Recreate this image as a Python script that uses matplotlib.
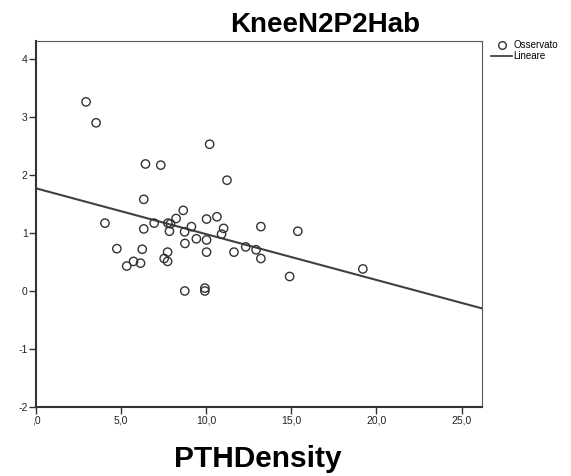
import matplotlib
matplotlib.use("Agg")
import matplotlib.pyplot as plt
from matplotlib.lines import Line2D

plt.rcParams['font.family'] = ['Liberation Sans', 'DejaVu Sans']
plt.rcParams['axes.unicode_minus'] = False

pth_density = [2.94, 3.53, 4.05, 4.75, 5.33, 5.73, 6.14, 6.24, 6.33, 6.33,
               6.43, 6.94, 7.33, 7.53, 7.73, 7.73, 7.75, 7.84, 7.90, 8.23,
               8.65, 8.73, 8.75, 8.74, 9.13, 9.42, 9.92, 9.92, 10.02, 10.02,
               10.02, 10.20, 10.63, 10.90, 11.02, 11.22, 11.63, 12.32, 12.93, 13.21,
               13.21, 14.90, 15.38, 19.20]
knee = [3.26, 2.90, 1.17, 0.73, 0.43, 0.51, 0.48, 0.72, 1.07, 1.58,
        2.19, 1.17, 2.17, 0.56, 0.67, 0.51, 1.17, 1.03, 1.16, 1.25,
        1.39, 1.02, 0.82, 0.00, 1.11, 0.90, 0.05, 0.00, 1.24, 0.88,
        0.67, 2.53, 1.28, 0.98, 1.08, 1.91, 0.67, 0.76, 0.71, 1.11,
        0.56, 0.25, 1.03, 0.38]

# linear fit as drawn
intercept = 1.77
slope = -0.079

x_ticks = [0, 5, 10, 15, 20, 25]
x_labels = [",0", "5,0", "10,0", "15,0", "20,0", "25,0"]
y_ticks = [-2, -1, 0, 1, 2, 3, 4]

x_min, x_max = 0, 26.2
y_min, y_max = -2, 4.31

fig = plt.figure(figsize=(5.71, 4.76), dpi=100)
ax = fig.add_axes([36 / 571, 1 - 407 / 476, 446 / 571, 366 / 476])

ax.scatter(pth_density, knee, s=36, facecolors='none', edgecolors='#333333',
           linewidths=1.0, zorder=3)
ax.plot([x_min, x_max], [intercept + slope * x_min, intercept + slope * x_max],
        color='#404040', linewidth=1.5, zorder=2)

ax.set_xlim(x_min, x_max)
ax.set_ylim(y_min, y_max)
ax.set_xticks(x_ticks)
ax.set_xticklabels(x_labels)
ax.set_yticks(y_ticks)
ax.tick_params(axis='both', direction='out', length=5, width=1, color='#333333',
               labelsize=7.5, labelcolor='#222222', pad=1)
ax.tick_params(top=False, right=False)

for side in ['top', 'right']:
    ax.spines[side].set_color('#555555')
    ax.spines[side].set_linewidth(0.8)
for side in ['left', 'bottom']:
    ax.spines[side].set_color('#333333')
    ax.spines[side].set_linewidth(1.5)

fig.text(325 / 571, 1 - 32 / 476, "KneeN2P2Hab", ha='center', va='baseline',
         fontsize=20, fontweight='bold')
fig.text(258 / 571, 1 - 467 / 476, "PTHDensity", ha='center', va='baseline',
         fontsize=21.5, fontweight='bold')

handles = [
    Line2D([], [], marker='o', linestyle='none', markerfacecolor='none',
           markeredgecolor='#333333', markersize=5.5),
    Line2D([], [], color='#333333', linewidth=1.2),
]
fig.legend(handles, ["Osservato", "Lineare"], loc='upper left',
           bbox_to_anchor=(491 / 571, 1 - 40 / 476), frameon=False,
           fontsize=7, handlelength=2.2, handletextpad=0.1, labelspacing=0.15,
           borderpad=0, borderaxespad=0)

fig.savefig("out.png", dpi=100)
